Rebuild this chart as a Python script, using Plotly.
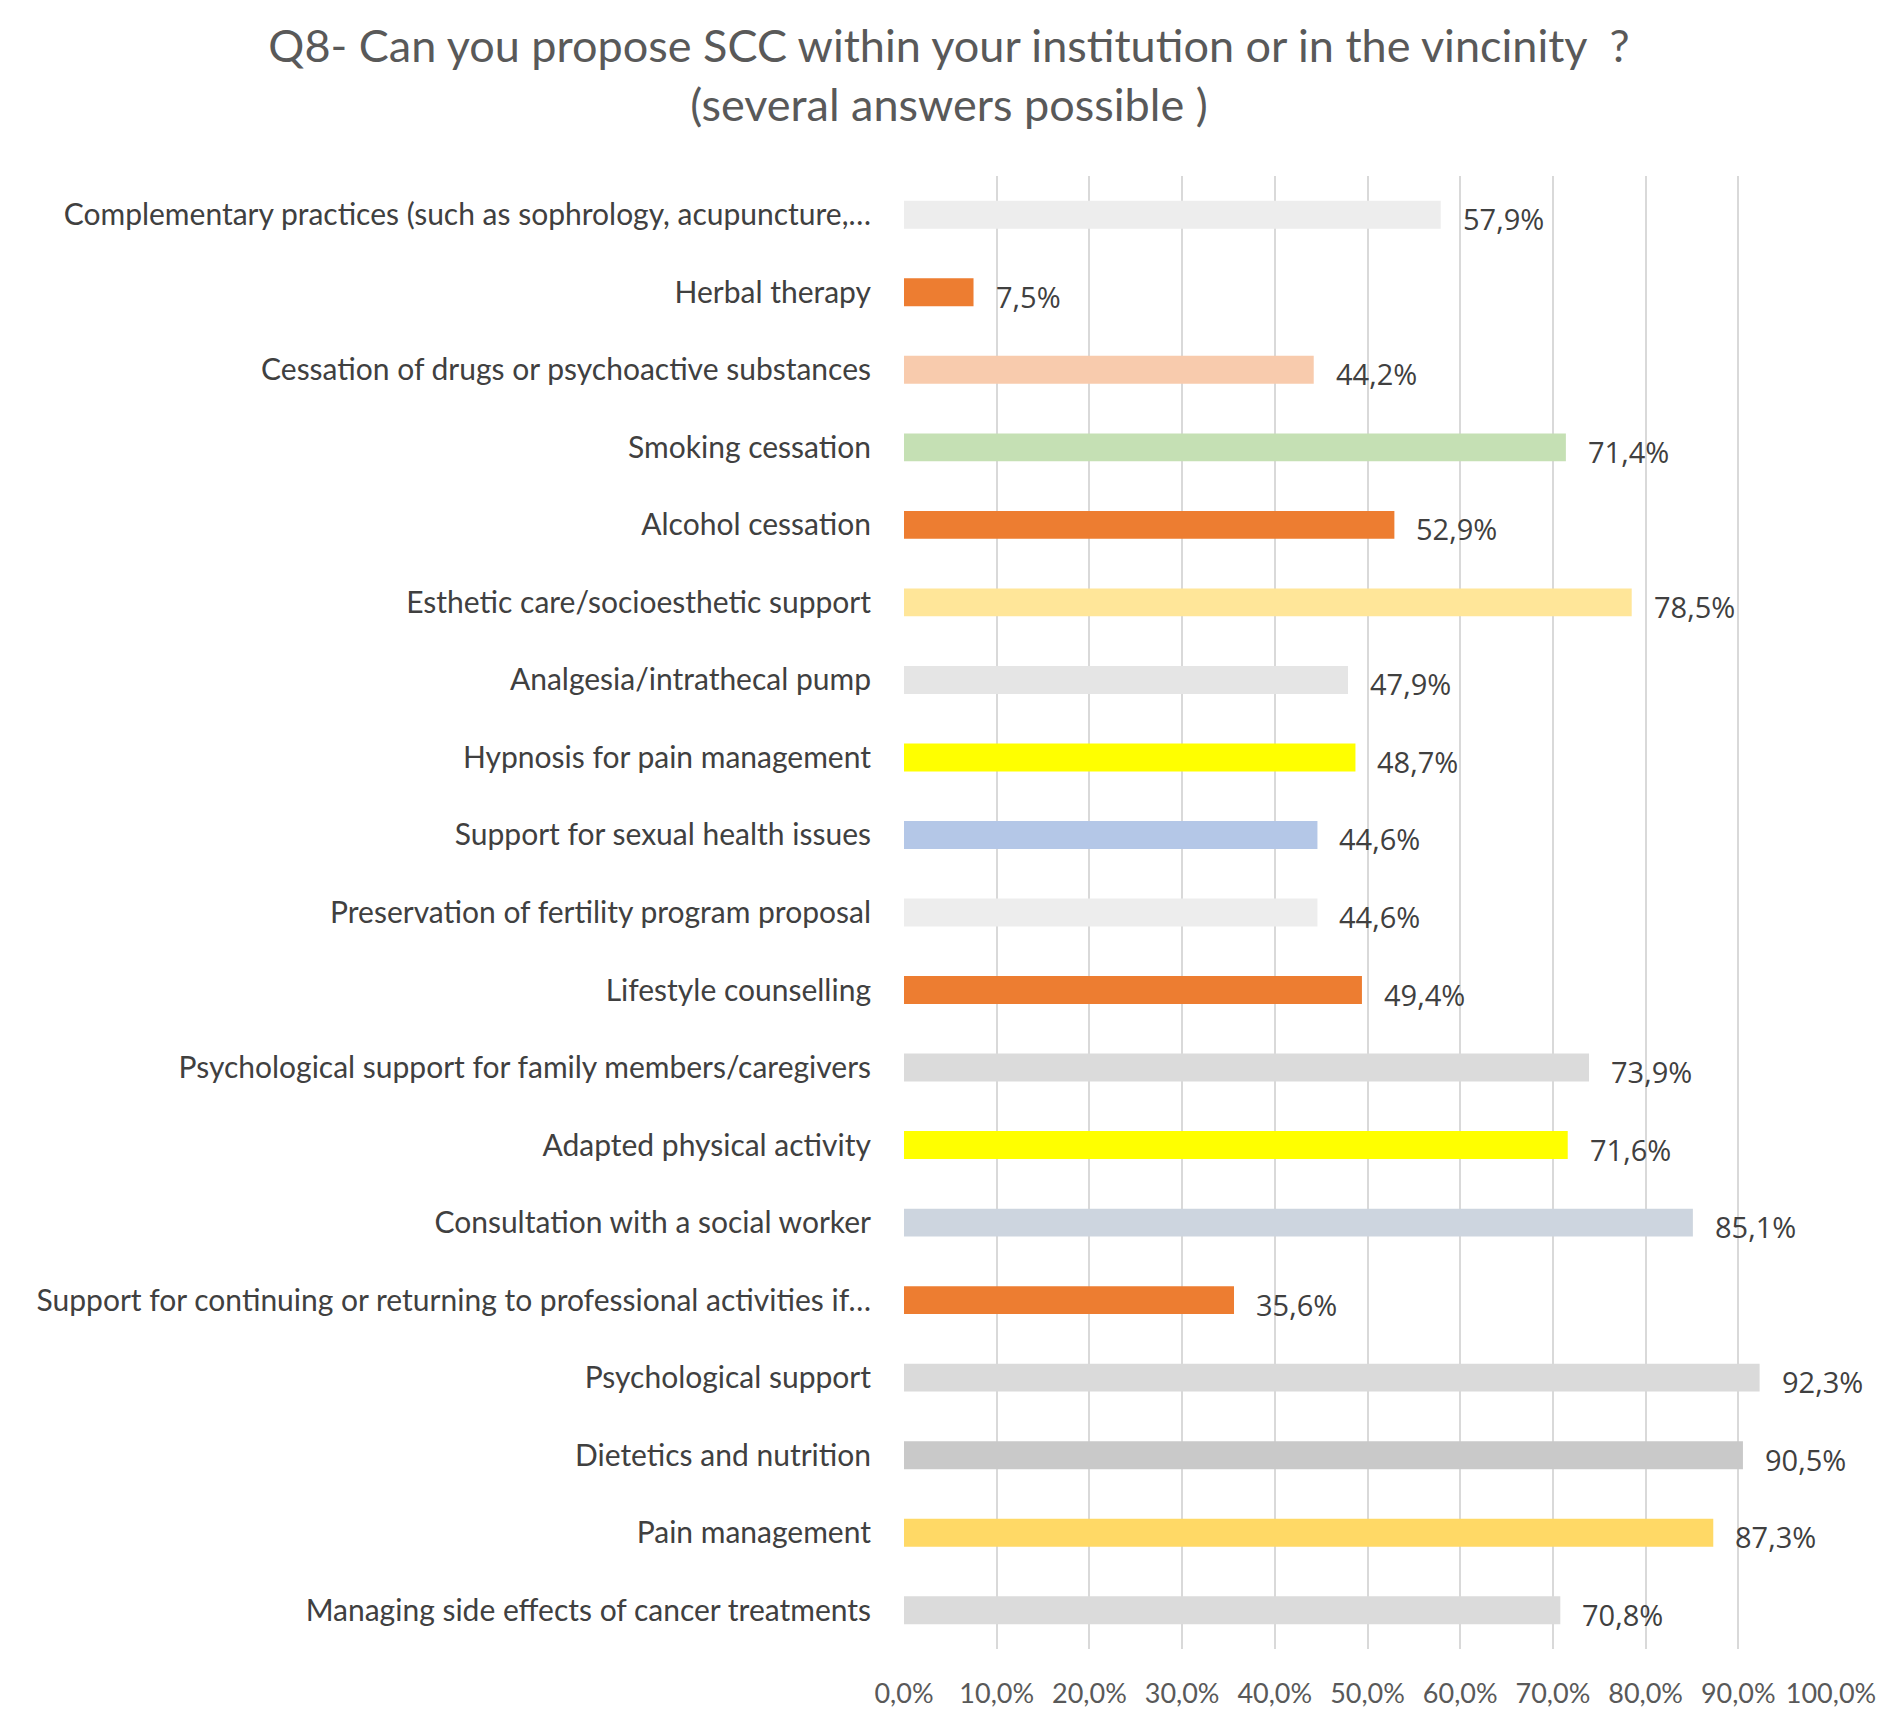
import plotly.graph_objects as go

categories = [
    "Complementary practices (such as sophrology, acupuncture,…",
    "Herbal therapy",
    "Cessation of drugs or psychoactive substances",
    "Smoking cessation",
    "Alcohol cessation",
    "Esthetic care/socioesthetic support",
    "Analgesia/intrathecal pump",
    "Hypnosis for pain management",
    "Support for sexual health issues",
    "Preservation of fertility program proposal",
    "Lifestyle counselling",
    "Psychological support for family members/caregivers",
    "Adapted physical activity",
    "Consultation with a social worker",
    "Support for continuing or returning to professional activities if…",
    "Psychological support",
    "Dietetics and nutrition",
    "Pain management",
    "Managing side effects of cancer treatments",
]
values = [57.9, 7.5, 44.2, 71.4, 52.9, 78.5, 47.9, 48.7, 44.6, 44.6,
          49.4, 73.9, 71.6, 85.1, 35.6, 92.3, 90.5, 87.3, 70.8]
colors = ["#EDEDED", "#ED7D31", "#F8CBAD", "#C5E0B4", "#ED7D31", "#FFE699",
          "#E5E5E5", "#FFFF00", "#B4C7E7", "#EDEDED", "#ED7D31", "#DBDBDB",
          "#FFFF00", "#CDD5DF", "#ED7D31", "#DADADA", "#C9C9C9", "#FFD966",
          "#DBDBDB"]
tick_vals = [0, 10, 20, 30, 40, 50, 60, 70, 80, 90, 100]
tick_text = ["0,0%", "10,0%", "20,0%", "30,0%", "40,0%", "50,0%", "60,0%",
             "70,0%", "80,0%", "90,0%", "100,0%"]
title_text = ("Q8- Can you propose SCC within your institution or in the vincinity  ?"
              "<br>(several answers possible )")

fig = go.Figure()
fig.add_trace(go.Bar(
    x=values, y=categories, orientation="h",
    marker=dict(color=colors, line=dict(width=0)),
    hoverinfo="skip",
))

for c, v in zip(categories, values):
    fig.add_annotation(
        x=v, y=c, xref="x", yref="y",
        text=f"{v:.1f}%".replace(".", ","),
        showarrow=False, xanchor="left", yanchor="middle",
        xshift=20, yshift=-4,
        font=dict(family="Open Sans", size=29, color="#404040"),
    )

fig.update_layout(
    width=1898, height=1713,
    margin=dict(l=904, r=67, t=176, b=64, autoexpand=False),
    paper_bgcolor="white", plot_bgcolor="white",
    bargap=0.64,
    showlegend=False,
    title=dict(
        text=title_text, x=0.5, xanchor="center",
        y=1 - 62 / 1713, yanchor="middle", yref="container",
        font=dict(family="Lato", size=45, color="#595959"),
    ),
    xaxis=dict(
        range=[0, 100], tickvals=tick_vals, ticktext=tick_text,
        showgrid=True, gridcolor="#D9D9D9", gridwidth=2,
        zeroline=False, showline=False, ticks="",
        ticklabelstandoff=26, automargin=False,
        tickfont=dict(family="Lato", size=27, color="#595959"),
    ),
    yaxis=dict(
        autorange="reversed", showgrid=False, zeroline=False,
        showline=False, ticks="", ticklabelstandoff=32, automargin=False,
        tickfont=dict(family="Lato", size=30, color="#404040"),
    ),
)

fig.write_html("out.html")
